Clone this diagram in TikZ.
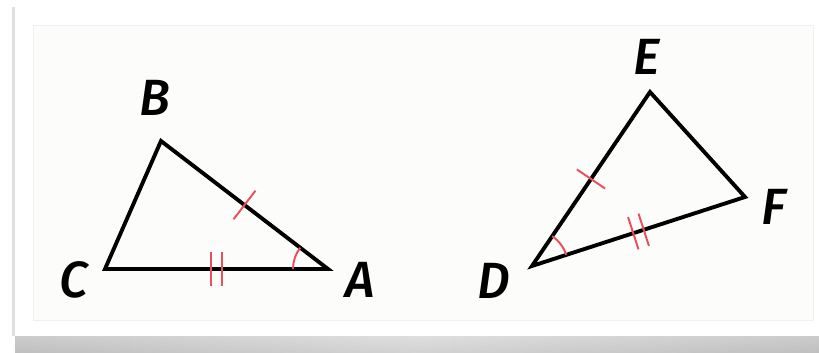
\documentclass[tikz,border=0pt]{standalone}
\usepackage{fontspec}
\setmainfont{Fira Sans}[ItalicFont={* Medium Italic}]
\usetikzlibrary{calc}
\definecolor{tickred}{RGB}{232,78,92}
\definecolor{panelgray}{RGB}{252,252,250}

\begin{document}
\begin{tikzpicture}[x=0.2mm, y=0.2mm,
    side/.style={line width=2.2pt, line join=miter},
    tick/.style={tickred, line width=1.1pt},
    vlabel/.style={font=\fontsize{29}{34}\selectfont\itshape, inner sep=0pt}]
    \useasboundingbox (0,0) rectangle (819,353);

    % Card with shadow
    \shade[top color=gray!25, bottom color=gray!50] (15,0) rectangle (819,17);
    \shade[left color=gray!50, right color=gray!50, middle color=gray!25, opacity=0.6] (15,0) rectangle (819,17);
    \fill[gray!25] (12,17) rectangle (15,346);
    \fill[white] (15,17) rectangle (819,346);
    \filldraw[fill=panelgray, draw=gray!12, line width=0.4pt] (33,33) rectangle (813,328);

    % Vertices
    \coordinate (A) at (328,84);
    \coordinate (B) at (161,212);
    \coordinate (C) at (105,84);
    \coordinate (D) at (532,87);
    \coordinate (E) at (650,261);
    \coordinate (F) at (745,156);

    % Triangles
    \draw[side] (A) -- (B) -- (C) -- cycle;
    \draw[side] (D) -- (E) -- (F) -- cycle;

    % Single ticks
    \draw[tick] ($(B)!0.5!(A)$) ++(52.5:-18) -- ++(52.5:36);
    \draw[tick] ($(D)!0.5!(E)$) ++(-34.1:-17) -- ++(-34.1:34);

    % Double ticks
    \foreach \s in {-5.5,5.5} {
        \draw[tick] ($(C)!0.5!(A)$) ++(\s,-17) -- ++(0,34);
        \draw[tick] ($(D)!0.5!(F)$) ++(17.9:\s) ++(107.9:-17) -- ++(107.9:34);
    }

    % Angle marks
    \draw[tick] (A) ++(142.5:35) arc (142.5:180:35);
    \draw[tick] (D) ++(17.9:36) arc (17.9:55.9:36);

    % Labels
    \node[vlabel] (lA) at (360,73) {A};
    \node[vlabel] (lB) at (155,255) {B};
    \node[vlabel] (lC) at (74,73) {C};
    \node[vlabel] (lD) at (494,72) {D};
    \node[vlabel] (lE) at (647,296) {E};
    \node[vlabel] (lF) at (774,146) {F};
\end{tikzpicture}
\end{document}
